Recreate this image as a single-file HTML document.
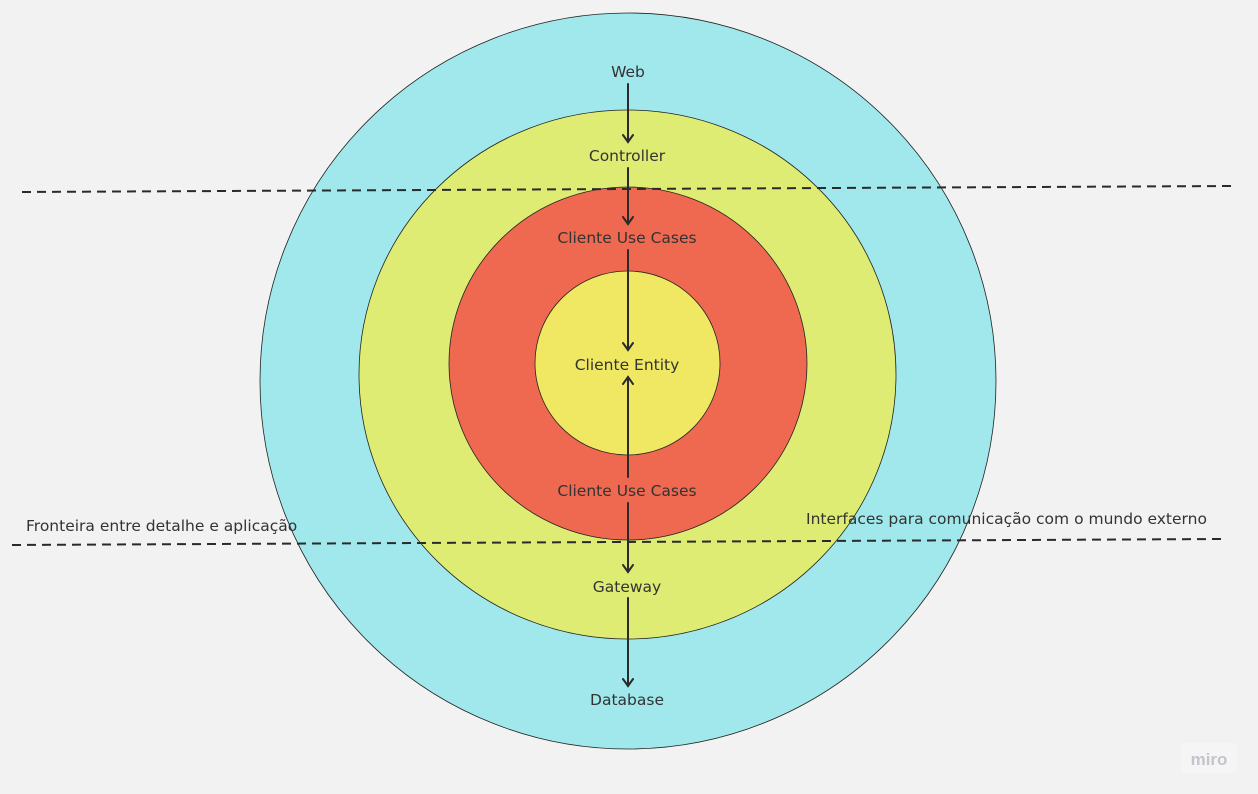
<!DOCTYPE html>
<html><head><meta charset="utf-8"><style>
html,body{margin:0;padding:0;background:#f2f2f2;}
svg{display:block}
text{font-family:"DejaVu Sans","Liberation Sans",sans-serif;font-size:15.5px;fill:#333;}
</style></head><body>
<svg width="1258" height="794" viewBox="0 0 1258 794">
<rect width="1258" height="794" fill="#f2f2f2"/>
<ellipse cx="628" cy="381" rx="368" ry="368" fill="#a0e8ec" stroke="#222" stroke-width="0.8"/>
<ellipse cx="627.5" cy="374.5" rx="268.5" ry="264.5" fill="#dfec74" stroke="#222" stroke-width="0.8"/>
<ellipse cx="628" cy="363.5" rx="179" ry="176.5" fill="#ef6850" stroke="#222" stroke-width="0.8"/>
<ellipse cx="627.5" cy="363" rx="92.5" ry="92" fill="#f0e862" stroke="#222" stroke-width="0.8"/>
<g stroke="#2a2a2a" stroke-width="2" stroke-dasharray="9,6" fill="none">
<line x1="22" y1="192" x2="1232" y2="186"/>
<line x1="12" y1="545" x2="1224" y2="539"/>
</g>
<g stroke="#2a2a2a" stroke-width="2" fill="none" stroke-linecap="round">
<line x1="628" y1="84" x2="628" y2="142"/><polyline points="623,135 628,142 633,135"/>
<line x1="628" y1="168" x2="628" y2="224"/><polyline points="623,217 628,224 633,217"/>
<line x1="628" y1="250" x2="628" y2="350"/><polyline points="623,343 628,350 633,343"/>
<line x1="628" y1="477" x2="628" y2="377"/><polyline points="623,384 628,377 633,384"/>
<line x1="628" y1="503" x2="628" y2="572"/><polyline points="623,565 628,572 633,565"/>
<line x1="628" y1="598" x2="628" y2="686"/><polyline points="623,679 628,686 633,679"/>
</g>
<g text-anchor="middle">
<text x="628" y="77">Web</text>
<text x="627" y="161">Controller</text>
<text x="627" y="243">Cliente Use Cases</text>
<text x="627" y="370">Cliente Entity</text>
<text x="627" y="496">Cliente Use Cases</text>
<text x="627" y="592">Gateway</text>
<text x="627" y="705">Database</text>
</g>
<text x="26" y="531">Fronteira entre detalhe e aplicação</text>
<text x="806" y="524">Interfaces para comunicação com o mundo externo</text>
<rect x="1181" y="743" width="56" height="30" rx="3" fill="#f5f5f5"/>
<text x="1209" y="765" text-anchor="middle" style="font-family:'Liberation Sans',sans-serif;font-size:17px;fill:#c4c4cc;font-weight:bold">miro</text>
</svg>
</body></html>
